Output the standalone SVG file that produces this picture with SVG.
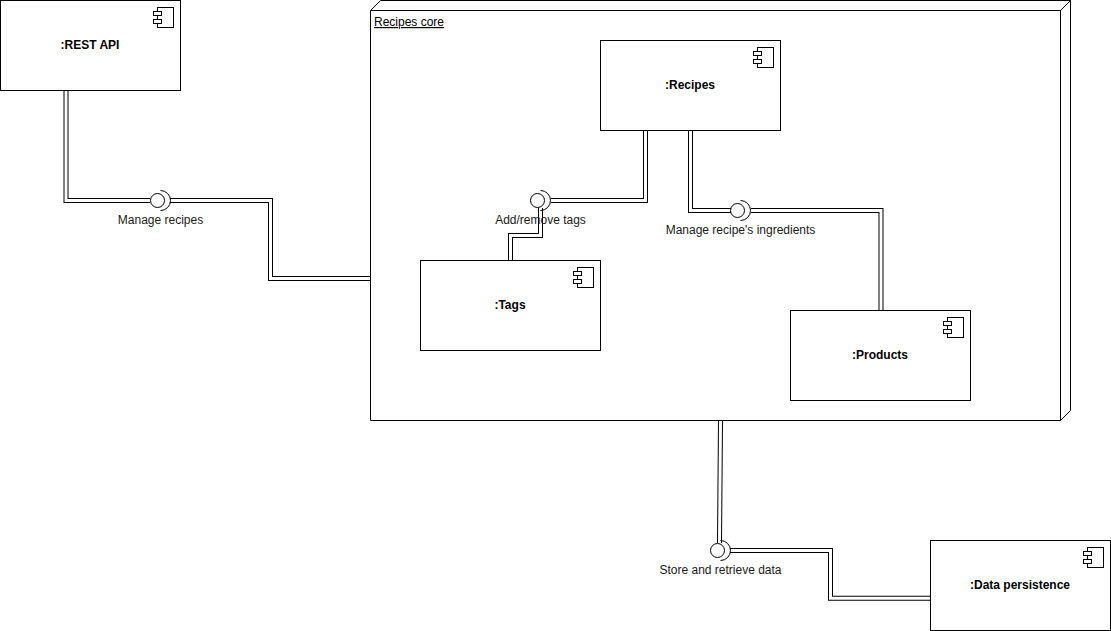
<svg xmlns="http://www.w3.org/2000/svg" width="1111" height="631" viewBox="0 0 1111 631">
<defs>
<style>
text{font-family:"Liberation Sans",Arial,Helvetica,sans-serif;font-size:12px;fill:#000}
.t{font-weight:bold;text-anchor:middle}
.l{text-anchor:middle;fill:#1a1a1a}
.b{fill:#fff;stroke:#000;stroke-width:1}
.o{fill:none;stroke:#000;stroke-width:5}
.i{fill:none;stroke:#fff;stroke-width:3}
.a{fill:none;stroke:#000;stroke-width:1}
</style>
<g id="ico">
<rect class="b" x="4" y="0" width="16" height="20"/>
<rect class="b" x="0" y="4" width="8" height="4"/>
<rect class="b" x="0" y="12" width="8" height="4"/>
</g>
</defs>
<g id="core">
<path class="b" d="M370.500 10.500 380.500 .5H1070.500V410.500L1060.500 420.500H370.500Z"/>
<path class="a" d="M370.500 10.500H1060.500L1070.500 .5M1060.500 10.500V420.500"/>
<text x="374" y="26" text-decoration="underline">Recipes core</text>
</g>
<g id="connectors">
<g class="o">
<path d="M66 90V200.500H150"/>
<path d="M170 200.500H270.500V278.500H370"/>
<path d="M645.500 130V200.500H551"/>
<path d="M540.500 208V235.500H510.500V260"/>
<path d="M690.500 130V210.500H731"/>
<path d="M751 210.500H881V310"/>
<path d="M720.500 421 719.500 543"/>
<path d="M730 550.500H830.500V598.200H930"/>
</g>
<g class="i">
<path d="M66 90V200.500H150"/>
<path d="M170 200.500H270.500V278.500H370"/>
<path d="M645.500 130V200.500H551"/>
<path d="M540.500 208V235.500H510.500V260"/>
<path d="M690.500 130V210.500H731"/>
<path d="M751 210.500H881V310"/>
<path d="M720.500 421 719.500 543"/>
<path d="M730 550.500H830.500V598.200H930"/>
</g>
</g>
<g id="rest-api">
<rect class="b" x=".5" y=".5" width="180" height="90"/>
<use href="#ico" x="153.500" y="7.500"/>
<text class="t" x="90" y="49">:REST API</text>
</g>
<g id="recipes">
<rect class="b" x="600.500" y="40.500" width="180" height="90"/>
<use href="#ico" x="753.500" y="47.500"/>
<text class="t" x="690" y="89">:Recipes</text>
</g>
<g id="tags">
<rect class="b" x="420.500" y="260.500" width="180" height="90"/>
<use href="#ico" x="573.500" y="267.500"/>
<text class="t" x="510" y="309">:Tags</text>
</g>
<g id="products">
<rect class="b" x="790.500" y="310.500" width="180" height="90"/>
<use href="#ico" x="943.500" y="317.500"/>
<text class="t" x="880" y="359">:Products</text>
</g>
<g id="data-persistence">
<rect class="b" x="930.500" y="540.500" width="180" height="90"/>
<use href="#ico" x="1083.500" y="547.500"/>
<text class="t" x="1020" y="589">:Data persistence</text>
</g>
<g id="manage-recipes">
<path class="a" d="M160.500 190.500A10 10 0 0 1 160.500 210.500"/>
<circle class="b" cx="157.500" cy="200.500" r="7"/>
<text class="l" x="160.500" y="224">Manage recipes</text>
</g>
<g id="add-remove-tags">
<path class="a" d="M540.500 190.500A10 10 0 0 1 540.500 210.500"/>
<circle class="b" cx="537.500" cy="200.500" r="7"/>
<text class="l" x="540.500" y="224">Add/remove tags</text>
</g>
<g id="manage-ingredients">
<path class="a" d="M740.500 200.500A10 10 0 0 1 740.500 220.500"/>
<circle class="b" cx="737.500" cy="210.500" r="7"/>
<text class="l" x="740.500" y="234">Manage recipe's ingredients</text>
</g>
<g id="store-retrieve">
<path class="a" d="M720.500 540.500A10 10 0 0 1 720.500 560.500"/>
<circle class="b" cx="717.500" cy="550.500" r="7"/>
<text class="l" x="720.500" y="574">Store and retrieve data</text>
</g>
</svg>
